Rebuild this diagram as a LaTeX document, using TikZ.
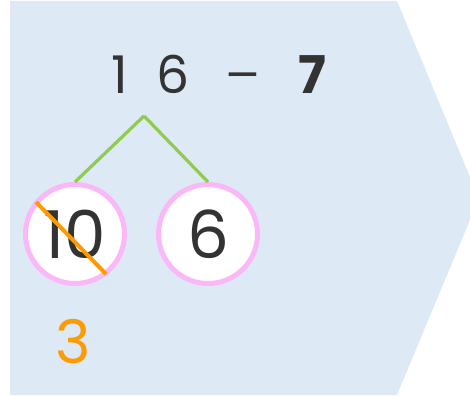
\documentclass[tikz,border=0pt]{standalone}
\usepackage{fontspec}
\setmainfont{Poppins}
\newfontfamily\minusfont{DejaVu Sans}
\usetikzlibrary{positioning, calc}

\definecolor{panelblue}{HTML}{DDE9F5}
\definecolor{ringpink}{HTML}{FBB8F9}
\definecolor{branchgreen}{HTML}{8FCB4F}
\definecolor{strikeorange}{HTML}{FF9A00}
\definecolor{ink}{HTML}{333333}

\begin{document}
\begin{tikzpicture}[
    x=1pt, y=-1pt,
    digit/.style={text=ink, inner sep=0pt, anchor=base, font=\fontsize{52}{52}\selectfont},
    bigdigit/.style={text=ink, inner sep=0pt, font=\fontsize{66}{66}\selectfont},
    ring/.style={circle, draw=ringpink, line width=5pt, fill=white, minimum size=99pt, inner sep=0pt},
    branch/.style={draw=branchgreen, line width=3.2pt},
    strike/.style={draw=strikeorange, line width=4pt},
    answer/.style={text=strikeorange, inner sep=0pt, anchor=base, font=\fontsize{60}{60}\selectfont}
]
\useasboundingbox (0,0) rectangle (470,396);
\fill[panelblue] (10,1) -- (397,1) -- (470,177) -- (470,220) -- (397,395) -- (10,395) -- cycle;

% the subtraction
\node (one) [digit] at (120,93) {1};
\node (six) [digit] at (173,93) {6};
\node (minus) [digit, font=\fontsize{44}{44}\minusfont] at (243,88) {−};
\node (seven) [digit, font=\fontsize{52}{52}\selectfont\bfseries] at (312,93) {7};

% split of 16
\coordinate (apex) at (144,116);
\node (ringten) [ring] at (75,234) {};
\node (ringsix) [ring] at (208,234) {};
\draw [branch] (apex) -- (ringten.north);
\draw [branch] (apex) -- (ringsix.north);
\node (ten) [bigdigit] at (ringten) {10};
\node (sixb) [bigdigit] at (ringsix) {6};
\draw [strike] ($(ringten)+(-39,-32)$) -- ($(ringten)+(31,40)$);

\node (three) [answer] at (73,363) {3};
\end{tikzpicture}
\end{document}
